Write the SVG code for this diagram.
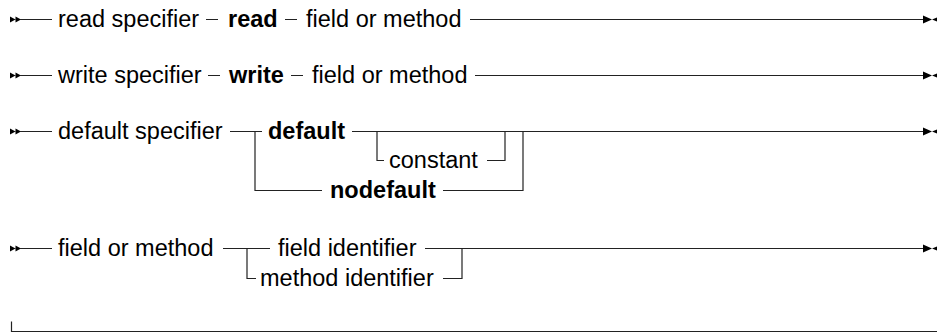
<svg xmlns="http://www.w3.org/2000/svg" width="937" height="333" viewBox="0 0 937 333">
<style>
  text { font-family: "Liberation Sans", Arial, Helvetica, sans-serif; font-size: 23.5px; fill: #000; }
  .b { font-weight: bold; }
  .ln { fill: none; stroke: #222; stroke-width: 1.2; }
  .ah { fill: #000; stroke: none; }
</style>
<defs>
  <g id="start">
    <path class="ah" d="M-11,-3 L-5.5,0 L-11,3 Z M-5.5,-3 L0,0 L-5.5,3 Z"/>
  </g>
  <g id="end">
    <path class="ah" d="M-14,-4 L-5,0 L-14,4 Z M4,-3.5 L-5,0 L4,3.5 Z"/>
  </g>
</defs>
<rect width="937" height="333" fill="#fff"/>

<g id="connectors">
  <!-- row 1 -->
  <use href="#start" x="21" y="19.5"/>
  <path class="ln" d="M20,19.5 H52 M206,19.5 H218 M285,19.5 H297 M470,19.5 H926"/>
  <use href="#end" x="937" y="19.5"/>
  <!-- row 2 -->
  <use href="#start" x="21" y="75.5"/>
  <path class="ln" d="M20,75.5 H52 M208,75.5 H220 M291,75.5 H303 M475,75.5 H926"/>
  <use href="#end" x="937" y="75.5"/>
  <!-- row 3 -->
  <use href="#start" x="21" y="131.5"/>
  <path class="ln" d="M20,131.5 H52 M230,131.5 H262 M352,131.5 H926"/>
  <path class="ln" d="M255,131.5 V190.5 H322 M443,190.5 H523 V131.5"/>
  <path class="ln" d="M377,131.5 V160.5 H384 M487,160.5 H505 V131.5"/>
  <use href="#end" x="937" y="131.5"/>
  <!-- row 4 -->
  <use href="#start" x="21" y="248.5"/>
  <path class="ln" d="M20,248.5 H52 M223,248.5 H270 M425,248.5 H926"/>
  <path class="ln" d="M247,248.5 V278.5 H256 M443,278.5 H462 V248.5"/>
  <use href="#end" x="937" y="248.5"/>
  <!-- bottom -->
  <path class="ln" d="M11.5,321.5 V331.5 H937"/>
</g>

<g id="read-specifier"><text x="58" y="26.5">read specifier</text></g>
<g id="read-kw"><text class="b" x="228" y="26.5">read</text></g>
<g id="read-field"><text x="306" y="26.5">field or method</text></g>

<g id="write-specifier"><text x="58" y="82.5">write specifier</text></g>
<g id="write-kw"><text class="b" x="229" y="82.5">write</text></g>
<g id="write-field"><text x="312" y="82.5">field or method</text></g>

<g id="default-specifier"><text x="58" y="138.5">default specifier</text></g>
<g id="default-kw"><text class="b" x="268" y="138.5">default</text></g>
<g id="constant"><text x="389" y="167.5">constant</text></g>
<g id="nodefault-kw"><text class="b" x="330" y="197.5">nodefault</text></g>

<g id="field-or-method"><text x="58" y="255.5">field or method</text></g>
<g id="field-identifier"><text x="278" y="255.5">field identifier</text></g>
<g id="method-identifier"><text x="260" y="285.5">method identifier</text></g>
</svg>
